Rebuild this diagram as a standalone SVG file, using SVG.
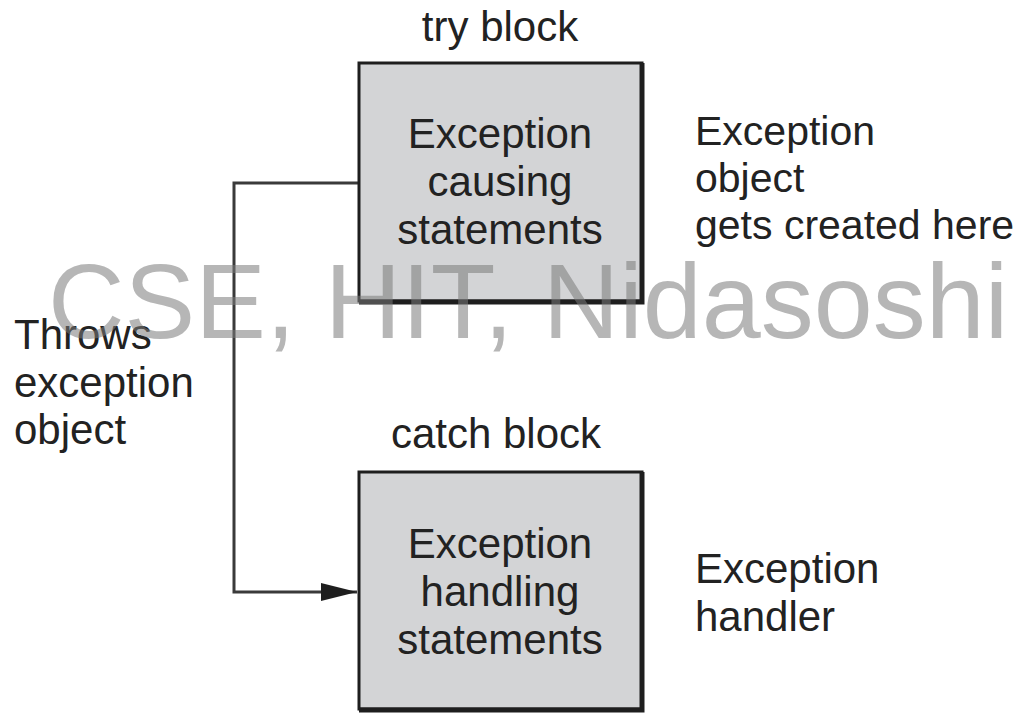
<svg xmlns="http://www.w3.org/2000/svg" width="1036" height="713" viewBox="0 0 1036 713">
  <style>
    .lbl { font-family: "Liberation Sans", Arial, sans-serif; font-size: 42px; fill: #222; }
    .sm { font-size: 41px; }
    .mid { text-anchor: middle; }
    .box { fill: #d3d4d6; stroke: #1e1e1e; stroke-width: 3; }
    .shade { stroke: #1e1e1e; stroke-width: 5; fill: none; }
    .wire { fill: none; stroke: #3a3a3a; stroke-width: 3; }
    .mark { font-family: "Liberation Sans", Arial, sans-serif; font-size: 106px; fill: #7a7a7a; fill-opacity: 0.55; }
  </style>
  <defs>
    <marker id="arrow" markerWidth="12" markerHeight="6" refX="12" refY="3" orient="auto" markerUnits="strokeWidth">
      <path d="M0,0 L12,3 L0,6 Z" fill="#1e1e1e"/>
    </marker>
  </defs>
  <rect width="1036" height="713" fill="#fff"/>

  <g id="connectors">
    <path class="wire" d="M358,183 H234 V592 H357" marker-end="url(#arrow)"/>
  </g>

  <g id="try-block">
    <text class="lbl mid" x="500" y="41">try block</text>
    <rect class="box" x="359" y="63" width="283" height="238"/>
    <path class="shade" d="M642,63 V302 H359"/>
    <text class="lbl mid" x="500" y="148">Exception</text>
    <text class="lbl mid" x="500" y="196">causing</text>
    <text class="lbl mid" x="500" y="244">statements</text>
  </g>

  <g id="created-note">
    <text class="lbl sm" x="695" y="145">Exception</text>
    <text class="lbl sm" x="695" y="192">object</text>
    <text class="lbl sm" x="695" y="239">gets created here</text>
  </g>

  <g id="throws-note">
    <text class="lbl" x="14" y="349">Throws</text>
    <text class="lbl" x="14" y="397">exception</text>
    <text class="lbl" x="14" y="444">object</text>
  </g>

  <g id="catch-block">
    <text class="lbl mid" x="496" y="448">catch block</text>
    <rect class="box" x="359" y="472" width="283" height="237"/>
    <path class="shade" d="M642,472 V710 H359"/>
    <text class="lbl mid" x="500" y="558">Exception</text>
    <text class="lbl mid" x="500" y="606">handling</text>
    <text class="lbl mid" x="500" y="654">statements</text>
  </g>

  <g id="handler-note">
    <text class="lbl" x="695" y="583">Exception</text>
    <text class="lbl" x="695" y="631">handler</text>
  </g>

  <text class="mark" x="48" y="338">CSE, HIT, Nidasoshi</text>
</svg>
